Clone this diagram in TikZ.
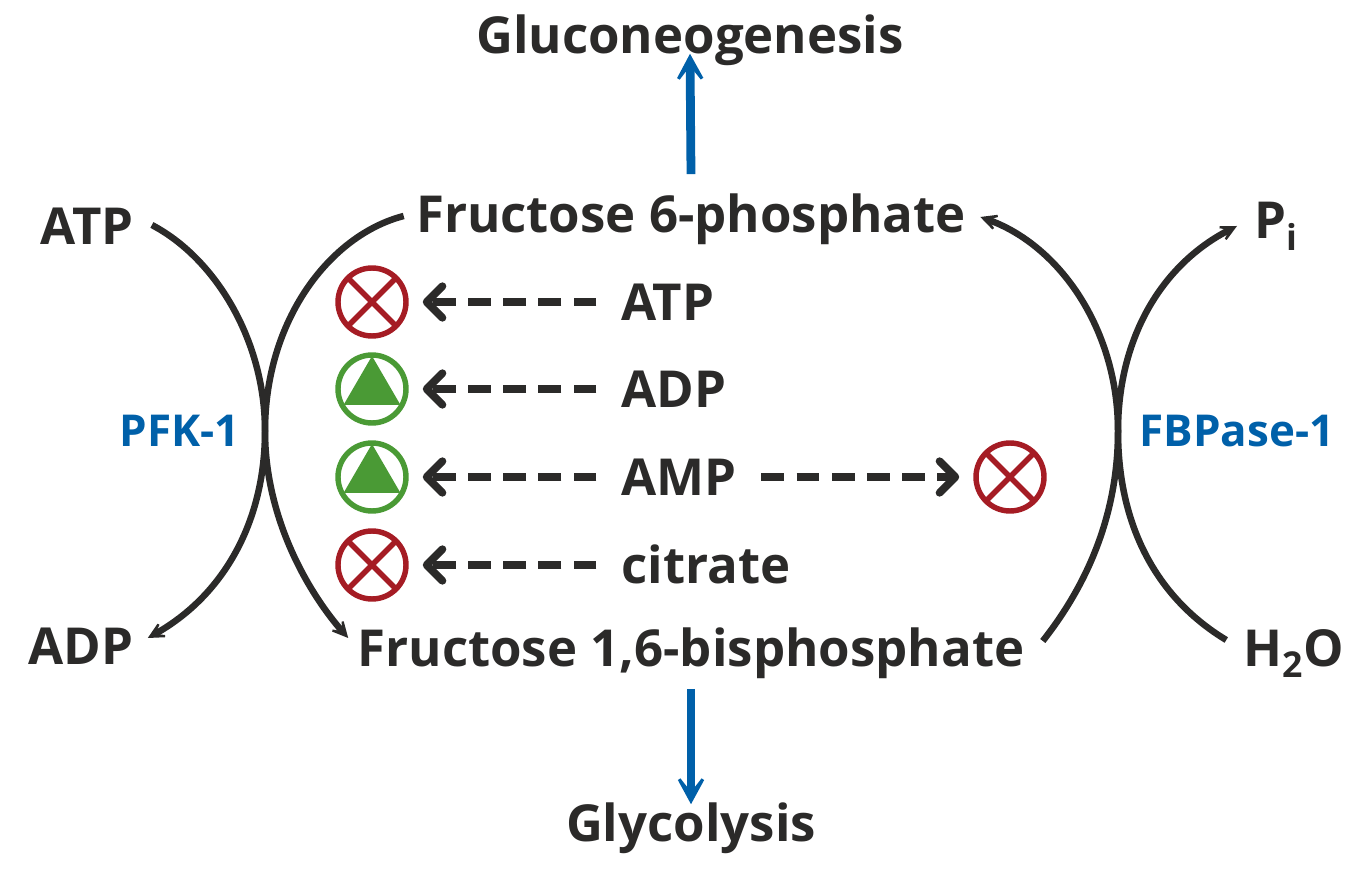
\documentclass[tikz,border=0pt]{standalone}
\usepackage{fontspec}
\setmainfont{Open Sans}
\usetikzlibrary{arrows.meta}
\definecolor{inkdark}{RGB}{43,42,41}
\definecolor{enzymeblue}{RGB}{0,96,169}
\definecolor{inhibred}{RGB}{165,28,36}
\definecolor{activgreen}{RGB}{74,154,53}
\tikzset{
  metab/.style={font=\fontsize{29}{34}\selectfont\bfseries, text=inkdark, inner sep=0pt, text height=21pt, text depth=0pt},
  enzyme/.style={font=\fontsize{25}{30}\selectfont\bfseries, text=enzymeblue, inner sep=0pt, text height=18pt, text depth=0pt},
  flux/.style={line width=3.7pt, draw=inkdark},
  fluxhead/.style={-{Stealth[length=15pt,width=15pt,inset=10pt]}},
  pathway/.style={line width=5pt, draw=enzymeblue, -{Stealth[length=23pt,width=25pt,inset=16pt]}},
  effect/.style={line width=4.4pt, draw=inkdark, dash pattern=on 13pt off 7pt, -{Straight Barb[length=9pt,width=18pt,round]}},
  inhib/.style={circle, draw=inhibred, line width=3.1pt, minimum size=1.36cm, inner sep=0pt,
    path picture={\draw[inhibred, line width=3.1pt]
      (path picture bounding box.north west) -- (path picture bounding box.south east)
      (path picture bounding box.north east) -- (path picture bounding box.south west);}},
  activ/.style={circle, draw=activgreen, line width=3.1pt, minimum size=1.36cm, inner sep=0pt,
    path picture={\fill[activgreen] ([yshift=0.66cm]path picture bounding box.center)
      -- ([shift={(-0.57cm,-0.32cm)}]path picture bounding box.center)
      -- ([shift={(0.57cm,-0.32cm)}]path picture bounding box.center) -- cycle;}},
}
\begin{document}
\begin{tikzpicture}[x=0.02cm, y=-0.02cm]
  \useasboundingbox (0,0) rectangle (1370,871);

  \node[metab] (gng) at (690,35) {Gluconeogenesis};
  \node[metab] (fsp) at (691,214) {Fructose 6-phosphate};
  \node[metab] (fbp) at (691,648) {Fructose 1,6-bisphosphate};
  \node[metab] (gly) at (691,823) {Glycolysis};
  \node[metab] (atpin) at (87,226) {ATP};
  \node[metab] (adpout) at (81,646) {ADP};
  \node[metab, anchor=west] (pi) at (1254,220) {P\textsubscript{i}};
  \node[metab] (water) at (1294,648) {H\textsubscript{2}O};
  \node[enzyme] (pfk) at (180,431) {PFK-1};
  \node[enzyme] (fbpase) at (1237,431) {FBPase-1};

  \foreach \name/\y/\kind/\txt in {atp/302/inhib/ATP, adp/389/activ/ADP, amp/477/activ/AMP, cit/565/inhib/citrate} {
    \node[metab, anchor=west] (\name) at (621,\y) {\txt};
    \node[\kind] (\name site) at (372,\y) {};
    \draw[effect, shorten <=14pt, shorten >=8pt] (\name.west) -- (\name site.east);
  }
  \node[inhib] (ampsite) at (1010,477) {};
  \draw[effect, shorten <=14pt, shorten >=8pt] (amp.east) -- (ampsite.west);

  \draw[pathway] (fsp.north) ++(0,-21) -- (gng.south);
  \draw[pathway] (fbp.south) ++(0,22) -- (gly.north);

  \coordinate (pfkjoin) at (265,431);
  \coordinate (fbpjoin) at (1118,431);
  \draw[flux, fluxhead] ([shift={(18,-1)}]atpin.east) .. controls (215,258) and (265,340) .. (pfkjoin)
    .. controls (265,520) and (310,595) .. ([shift={(-9,-10)}]fbp.west);
  \draw[flux, fluxhead] ([shift={(-12,2)}]fsp.west) .. controls (330,235) and (265,320) .. (pfkjoin)
    .. controls (265,520) and (225,595) .. ([shift={(14,-8)}]adpout.east);
  \draw[flux, fluxhead] ([shift={(18,-7)}]fbp.east) .. controls (1075,600) and (1118,530) .. (fbpjoin)
    .. controls (1118,330) and (1060,245) .. ([shift={(14,3)}]fsp.east);
  \draw[flux, fluxhead] ([shift={(-17,-8)}]water.west) .. controls (1160,600) and (1118,530) .. (fbpjoin)
    .. controls (1118,340) and (1160,265) .. ([shift={(-17,6)}]pi.west);
\end{tikzpicture}
\end{document}
